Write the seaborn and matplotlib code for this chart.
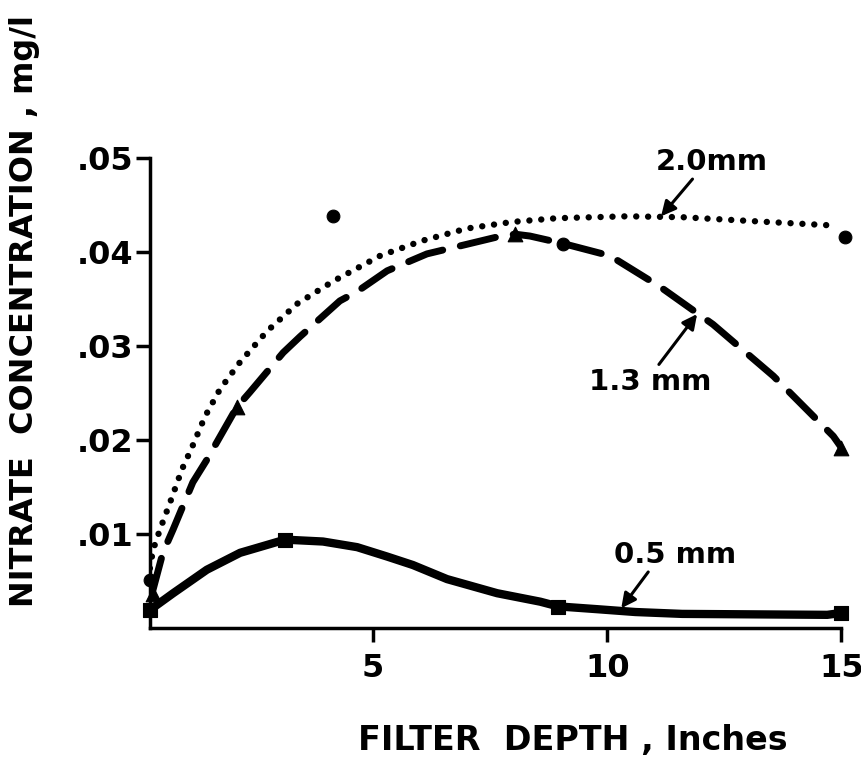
import pandas as pd
import matplotlib.pyplot as plt
import seaborn as sns

# curve readings (filter depth in inches, nitrate mg/l)
depth_20 = [0.19, 0.30, 0.45, 0.66, 0.92, 1.13, 1.41, 1.73, 2.16, 2.74, 3.38, 4.15,
            5.15, 6.05, 7.0, 7.97, 8.93, 10.43, 11.62, 13.42, 14.91]
conc_20 = [0.0051, 0.0083, 0.0105, 0.0133, 0.0169, 0.0192, 0.0225, 0.0254, 0.0283, 0.0316,
           0.0345, 0.0369, 0.0396, 0.0412, 0.0425, 0.0432, 0.0436, 0.0438, 0.0437, 0.0432, 0.0428]

depth_13 = [0.28, 0.51, 0.73, 1.15, 1.45, 2.09, 2.37, 3.08, 3.44, 4.29, 4.66, 5.30, 6.15,
            7.65, 8.03, 8.35, 9.06, 10.06, 11.13, 12.26, 13.55, 14.83, 15.0]
conc_13 = [0.0037, 0.0080, 0.0105, 0.0155, 0.0179, 0.0235, 0.0251, 0.0293, 0.0310, 0.0348,
           0.0358, 0.0380, 0.0398, 0.0416, 0.0419, 0.0417, 0.0409, 0.0396, 0.0363, 0.0323,
           0.0268, 0.0204, 0.0192]

depth_05 = [0.23, 0.73, 1.45, 2.16, 3.12, 3.93, 4.66, 5.3, 5.85, 6.58, 7.65, 8.57, 8.95,
            9.79, 10.6, 11.6, 14.7, 15.0]
conc_05 = [0.0019, 0.0037, 0.0062, 0.0080, 0.0094, 0.0092, 0.0086, 0.0076, 0.0067, 0.0052,
           0.0037, 0.0028, 0.0023, 0.0020, 0.0017, 0.0015, 0.0014, 0.0016]

# measured points
pts_20_x = [0.23, 4.15, 9.06, 15.08]
pts_20_y = [0.0051, 0.0438, 0.0409, 0.0416]
pts_13_x = [0.3, 2.09, 8.03, 15.0]
pts_13_y = [0.0036, 0.0235, 0.0419, 0.0192]
pts_05_x = [0.23, 3.12, 8.95, 15.0]
pts_05_y = [0.0019, 0.0094, 0.0022, 0.0016]

x_ticks = [5, 10, 15]
y_ticks = [0.01, 0.02, 0.03, 0.04, 0.05]
y_tick_labels = ['.01', '.02', '.03', '.04', '.05']

sns.set_style('ticks')
plt.rcParams['font.family'] = ['DejaVu Sans']
plt.rcParams['font.weight'] = 'bold'
plt.rcParams['axes.labelweight'] = 'bold'
plt.rcParams['text.color'] = 'black'
plt.rcParams['axes.labelcolor'] = 'black'
plt.rcParams['xtick.color'] = 'black'
plt.rcParams['ytick.color'] = 'black'

fig = plt.figure(figsize=(8.62, 7.59), dpi=100)
ax = fig.add_axes([0.174, 0.1726, 0.802, 0.6192])

# curves
sns.lineplot(x=depth_20, y=conc_20, ax=ax, color='black', lw=4.6, sort=False,
             linestyle=(0, (0.01, 1.85)), dash_capstyle='round')
sns.lineplot(x=depth_13, y=conc_13, ax=ax, color='black', lw=5, sort=False,
             linestyle=(0, (5.2, 2.6)), dash_capstyle='round')
sns.lineplot(x=depth_05, y=conc_05, ax=ax, color='black', lw=6, sort=False,
             solid_capstyle='round')

# data points
sns.scatterplot(x=pts_20_x, y=pts_20_y, ax=ax, color='black', marker='o', s=85,
                edgecolor='black', clip_on=False, zorder=5)
sns.scatterplot(x=pts_13_x, y=pts_13_y, ax=ax, color='black', marker='^', s=110,
                edgecolor='black', clip_on=False, zorder=5)
sns.scatterplot(x=pts_05_x, y=pts_05_y, ax=ax, color='black', marker='s', s=100,
                edgecolor='black', clip_on=False, zorder=5)

# labels with arrows
arrow = dict(arrowstyle='-|>', color='black', lw=2.2, mutation_scale=22, shrinkA=0, shrinkB=0)
ax.annotate('2.0mm', xy=(11.15, 0.0438), xytext=(12.24, 0.0496), fontsize=21,
            ha='center', va='center', annotation_clip=False,
            arrowprops=dict(arrow, relpos=(0.35, 0.0)))
ax.annotate('1.3 mm', xy=(11.92, 0.0334), xytext=(10.92, 0.0262), fontsize=21,
            ha='center', va='center',
            arrowprops=dict(arrow, relpos=(0.55, 1.0)))
ax.annotate('0.5 mm', xy=(10.3, 0.0021), xytext=(11.45, 0.0078), fontsize=21,
            ha='center', va='center',
            arrowprops=dict(arrow, relpos=(0.3, 0.0)))

ax.set_xlim(0.235, 15)
ax.set_ylim(0, 0.05)
ax.set_xticks(x_ticks)
ax.set_xticklabels([str(t) for t in x_ticks])
ax.set_yticks(y_ticks)
ax.set_yticklabels(y_tick_labels)
ax.tick_params(axis='both', labelsize=23, width=2.5, length=10, color='black')
ax.tick_params(axis='x', pad=8)
ax.tick_params(axis='y', pad=2)
sns.despine(ax=ax)
for side in ['left', 'bottom']:
    ax.spines[side].set_linewidth(2.5)
    ax.spines[side].set_color('black')

ax.set_xlabel('FILTER  DEPTH , Inches', fontsize=24, fontweight='bold')
ax.set_ylabel('NITRATE  CONCENTRATION , mg/l', fontsize=23, fontweight='bold')
ax.xaxis.set_label_coords(0.611, -0.205)
ax.yaxis.set_label_coords(-0.159, 0.674)

plt.savefig('out.png', dpi=100)
